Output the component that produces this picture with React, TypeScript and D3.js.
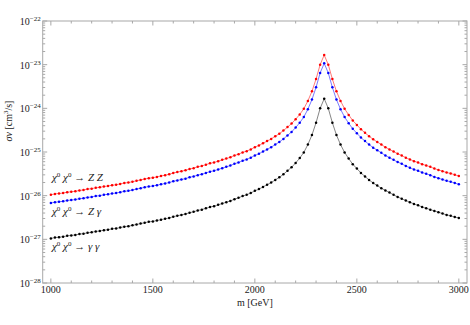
import * as d3 from "d3"

// mass grid of the scan, GeV
const masses = d3.range(1000, 3001, 20)

// log10(sigma v / cm^3 s^-1), one per mass
const logZZ = [
  -25.98, -25.96, -25.95, -25.94, -25.92, -25.91, -25.9, -25.88, -25.87, -25.85,
  -25.84, -25.82, -25.81, -25.79, -25.78, -25.76, -25.75, -25.73, -25.71, -25.7,
  -25.68, -25.66, -25.64, -25.62, -25.6, -25.59, -25.57, -25.55, -25.53, -25.51,
  -25.48, -25.46, -25.44, -25.42, -25.39, -25.37, -25.34, -25.32, -25.29, -25.26,
  -25.24, -25.21, -25.18, -25.15, -25.12, -25.08, -25.05, -25.01, -24.98, -24.94,
  -24.89, -24.85, -24.8, -24.75, -24.7, -24.64, -24.58, -24.51, -24.43, -24.35,
  -24.25, -24.14, -24.01, -23.83, -23.61, -23.33, -23.0, -22.78,
  -23.0, -23.33, -23.61, -23.83, -24.01, -24.15, -24.28, -24.38, -24.48, -24.56,
  -24.64, -24.71, -24.77, -24.83, -24.89, -24.94, -24.99, -25.04, -25.08, -25.13,
  -25.17, -25.21, -25.24, -25.28, -25.31, -25.34, -25.38, -25.41, -25.44, -25.47,
  -25.49, -25.52, -25.55,
]

const logZgamma = [
  -26.17, -26.15, -26.14, -26.13, -26.11, -26.1, -26.09, -26.07, -26.06, -26.04,
  -26.03, -26.01, -26.0, -25.98, -25.97, -25.95, -25.94, -25.92, -25.9, -25.89,
  -25.87, -25.85, -25.83, -25.81, -25.79, -25.78, -25.76, -25.74, -25.72, -25.7,
  -25.67, -25.65, -25.63, -25.61, -25.58, -25.56, -25.53, -25.51, -25.48, -25.45,
  -25.43, -25.4, -25.37, -25.34, -25.31, -25.27, -25.24, -25.2, -25.17, -25.13,
  -25.08, -25.04, -24.99, -24.94, -24.89, -24.83, -24.77, -24.7, -24.62, -24.54,
  -24.44, -24.33, -24.2, -24.02, -23.8, -23.52, -23.19, -22.97,
  -23.19, -23.52, -23.8, -24.02, -24.2, -24.34, -24.47, -24.57, -24.67, -24.75,
  -24.83, -24.9, -24.96, -25.02, -25.08, -25.13, -25.18, -25.23, -25.27, -25.32,
  -25.36, -25.4, -25.43, -25.47, -25.5, -25.53, -25.57, -25.6, -25.63, -25.66,
  -25.68, -25.71, -25.74,
]

const logGammaGamma = [
  -26.98, -26.96, -26.95, -26.94, -26.92, -26.91, -26.9, -26.88, -26.87, -26.85,
  -26.84, -26.82, -26.81, -26.79, -26.78, -26.76, -26.75, -26.73, -26.71, -26.7,
  -26.68, -26.66, -26.64, -26.62, -26.6, -26.59, -26.57, -26.55, -26.53, -26.51,
  -26.48, -26.46, -26.44, -26.42, -26.39, -26.37, -26.34, -26.32, -26.29, -26.26,
  -26.24, -26.21, -26.18, -26.15, -26.12, -26.08, -26.05, -26.01, -25.98, -25.94,
  -25.89, -25.85, -25.8, -25.75, -25.7, -25.64, -25.58, -25.51, -25.43, -25.35,
  -25.25, -25.14, -25.01, -24.83, -24.61, -24.33, -24.0, -23.78,
  -24.0, -24.33, -24.61, -24.83, -25.01, -25.15, -25.28, -25.38, -25.48, -25.56,
  -25.64, -25.71, -25.77, -25.83, -25.88, -25.93, -25.98, -26.03, -26.07, -26.11,
  -26.15, -26.19, -26.22, -26.26, -26.29, -26.32, -26.35, -26.38, -26.41, -26.44,
  -26.46, -26.49, -26.51,
]

const xTicks = [1000, 1500, 2000, 2500, 3000]
const yExponents = [-28, -27, -26, -25, -24, -23, -22]

const series = [
  { key: "zz", values: logZZ, dot: "#ff0000", line: "#ff6a6a", final: "Z Z", y: 181 },
  { key: "zg", values: logZgamma, dot: "#0000ff", line: "#6a6aff", final: "Z γ", y: 215 },
  { key: "gg", values: logGammaGamma, dot: "#000000", line: "#777777", final: "γ γ", y: 250 },
]

const W = 470
const H = 325
const left = 42.7
const right = 467
const top = 21
const bottom = 283
const frameColor = "#a8a8a8"
const font = "'Liberation Serif', 'DejaVu Serif', serif"

export default function App() {
  const x = d3.scaleLinear().domain([960, 3040]).range([left, right])
  const y = d3.scaleLog().domain([1e-28, 1e-22]).range([bottom, top])

  const minorX = d3.range(1000, 3001, 100).filter((v) => v % 500 !== 0)
  const minorY: number[] = []
  yExponents.slice(0, -1).forEach((e) => {
    for (let k = 2; k <= 9; k++) minorY.push(k * Math.pow(10, e))
  })

  const line = d3
    .line<[number, number]>()
    .x((d) => x(d[0]))
    .y((d) => y(Math.pow(10, d[1])))

  return (
    <svg width={W} height={H} style={{ position: "absolute", left: 0, top: 0 }}>
      <rect width={W} height={H} fill="#fff" />

      {/* curves */}
      {series.map((s) => {
        const pts = masses.map((m, i) => [m, s.values[i]] as [number, number])
        return (
          <g key={s.key}>
            <path d={line(pts) || ""} fill="none" stroke={s.line} strokeWidth={0.9} />
            {pts.map((p, i) => (
              <circle key={i} cx={x(p[0])} cy={y(Math.pow(10, p[1]))} r={1.25} fill={s.dot} />
            ))}
          </g>
        )
      })}

      {/* frame */}
      <rect
        x={left}
        y={top}
        width={right - left}
        height={bottom - top}
        fill="none"
        stroke={frameColor}
        strokeWidth={1}
      />

      {/* x ticks, bottom and top */}
      {xTicks.map((t) => (
        <g key={"xt" + t}>
          <line x1={x(t)} x2={x(t)} y1={bottom} y2={bottom - 4.5} stroke={frameColor} />
          <line x1={x(t)} x2={x(t)} y1={top} y2={top + 4.5} stroke={frameColor} />
          <text x={x(t)} y={bottom + 10} fontSize={10} fontFamily={font} textAnchor="middle" fill="#222">
            {t}
          </text>
        </g>
      ))}
      {minorX.map((t) => (
        <g key={"xm" + t}>
          <line x1={x(t)} x2={x(t)} y1={bottom} y2={bottom - 2.5} stroke={frameColor} />
          <line x1={x(t)} x2={x(t)} y1={top} y2={top + 2.5} stroke={frameColor} />
        </g>
      ))}

      {/* y ticks, left and right */}
      {yExponents.map((e) => {
        const yy = y(Math.pow(10, e))
        return (
          <g key={"yt" + e}>
            <line x1={left} x2={left + 4.5} y1={yy} y2={yy} stroke={frameColor} />
            <line x1={right} x2={right - 4.5} y1={yy} y2={yy} stroke={frameColor} />
            <text x={left - 2} y={yy + 4} fontSize={10} fontFamily={font} textAnchor="end" fill="#222">
              10
              <tspan fontSize={7} dy={-4}>
                {"−" + Math.abs(e)}
              </tspan>
            </text>
          </g>
        )
      })}
      {minorY.map((v, i) => (
        <g key={"ym" + i}>
          <line x1={left} x2={left + 2.5} y1={y(v)} y2={y(v)} stroke={frameColor} />
          <line x1={right} x2={right - 2.5} y1={y(v)} y2={y(v)} stroke={frameColor} />
        </g>
      ))}

      {/* axis labels */}
      <text x={(left + right) / 2} y={306} fontSize={10} fontFamily={font} textAnchor="middle" fill="#222">
        m [GeV]
      </text>
      <text
        transform="translate(12, 121) rotate(-90)"
        fontSize={10}
        fontFamily={font}
        textAnchor="middle"
        fill="#222"
      >
        <tspan fontStyle="italic">σv</tspan> [cm
        <tspan fontSize={7} dy={-4}>
          3
        </tspan>
        <tspan dy={4}>/s]</tspan>
      </text>

      {/* process labels */}
      {series.map((s) => (
        <text key={"lab" + s.key} x={52} y={s.y} fontSize={11} fontFamily={font} fill="#222">
          <tspan fontStyle="italic">χ</tspan>
          <tspan fontSize={7} dy={-4}>
            0
          </tspan>
          <tspan dy={4}> </tspan>
          <tspan fontStyle="italic">χ</tspan>
          <tspan fontSize={7} dy={-4}>
            0
          </tspan>
          <tspan dy={4}> → </tspan>
          <tspan fontStyle="italic">{s.final}</tspan>
        </text>
      ))}
    </svg>
  )
}
